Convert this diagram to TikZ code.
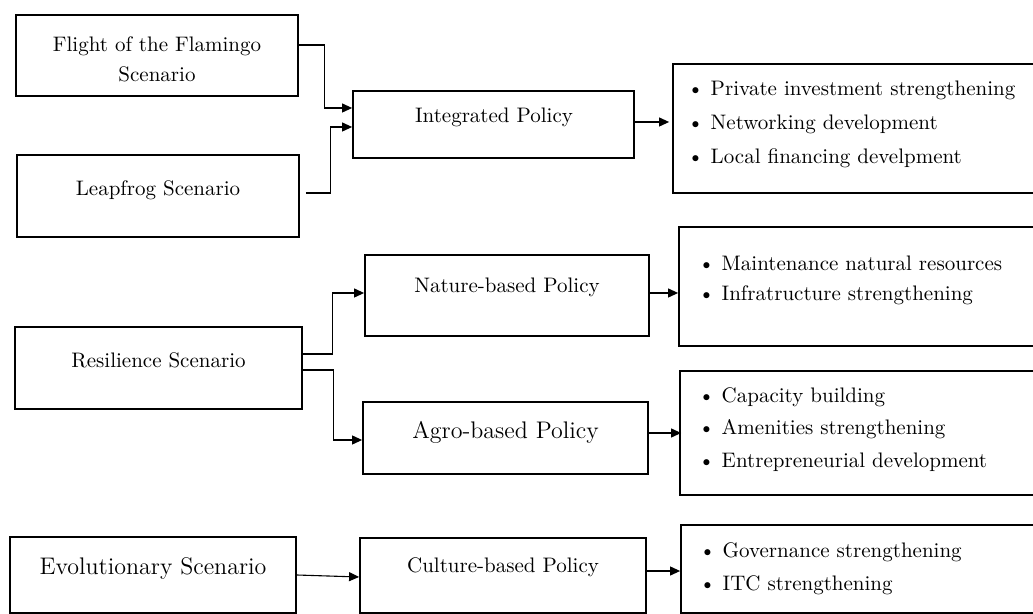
\documentclass[tikz,border=0pt]{standalone}
\usepackage{tikz}
\usetikzlibrary{arrows.meta}

\tikzset{
  box/.style={draw, line width=0.9pt, inner sep=0pt},
  lbl/.style={font=\fontsize{10.5}{15}\selectfont, align=center, inner sep=0pt},
  biglbl/.style={font=\fontsize{12}{14}\selectfont, align=center, inner sep=0pt},
  entry/.style={font=\fontsize{10.5}{13}\selectfont, anchor=west, inner sep=0pt},
  conn/.style={-{Triangle[length=5pt,width=4.5pt]}, line width=0.55pt}
}

\begin{document}
\begin{tikzpicture}[x=0.5pt, y=-0.5pt]
  \useasboundingbox (0,0) rectangle (1033,614);

  % scenario boxes (left column)
  \node[box, minimum width=141pt, minimum height=40.5pt] (flamingo) at (157,55.5) {};
  \node[lbl] (flamingo-t) at (157,59) {Flight of the Flamingo\\Scenario};
  \node[box, minimum width=141pt, minimum height=41pt] (leapfrog) at (158,196) {};
  \node[lbl] (leapfrog-t) at (158,190) {Leapfrog Scenario};
  \node[box, minimum width=143.5pt, minimum height=41pt] (resil) at (158.5,368) {};
  \node[lbl] (resil-t) at (158.5,360) {Resilience Scenario};
  \node[box, minimum width=143pt, minimum height=38pt] (evo) at (153,575) {};
  \node[biglbl] (evo-t) at (153,568) {Evolutionary Scenario};

  % policy boxes (middle column)
  \node[box, minimum width=140.5pt, minimum height=33.5pt] (integ) at (493.5,124.5) {};
  \node[lbl] (integ-t) at (494,117) {Integrated Policy};
  \node[box, minimum width=142pt, minimum height=40.5pt] (nature) at (507,295.5) {};
  \node[lbl] (nature-t) at (507,287) {Nature-based Policy};
  \node[box, minimum width=142.5pt, minimum height=36pt] (agro) at (505.5,438) {};
  \node[biglbl] (agro-t) at (505.5,432) {Agro-based Policy};
  \node[box, minimum width=143pt, minimum height=37.5pt] (culture) at (503,575.5) {};
  \node[lbl] (culture-t) at (503,567) {Culture-based Policy};

  % action boxes (right column)
  \node[box, minimum width=181.5pt, minimum height=64.5pt] (privinv) at (854.5,128.5) {};
  \node[box, minimum width=178.5pt, minimum height=59.5pt] (natres) at (857.5,286.5) {};
  \node[box, minimum width=178pt, minimum height=62pt] (capbld) at (858,433) {};
  \node[box, minimum width=177.5pt, minimum height=44pt] (govern) at (858.5,569) {};

  % bullet items
  \foreach \entrytext [count=\i] in {Private investment strengthening,
      Networking development, Local financing develpment}
    \node[entry] (privinv-\i) at (687,{90+34*(\i-1)}) {\textbullet\ \entrytext};
  \foreach \entrytext [count=\i] in {Maintenance natural resources,
      Infratructure strengthening}
    \node[entry] (natres-\i) at (698,{263+32*(\i-1)}) {\textbullet\ \entrytext};
  \foreach \entrytext [count=\i] in {Capacity building,
      Amenities strengthening, Entrepreneurial development}
    \node[entry] (capbld-\i) at (698,{397+32.5*(\i-1)}) {\textbullet\ \entrytext};
  \foreach \entrytext [count=\i] in {Governance strengthening,
      ITC strengthening}
    \node[entry] (govern-\i) at (699,{552+33*(\i-1)}) {\textbullet\ \entrytext};

  % connectors
  \draw[conn] ([yshift=5.25pt]flamingo.east) -- ++(13pt,0) |- ([yshift=8.25pt]integ.west);
  \draw[conn] ([xshift=3pt,yshift=1.5pt]leapfrog.east) -- ++(12.5pt,0) |- ([yshift=-1.25pt]integ.west);
  \draw[conn] ([yshift=1.25pt]integ.east) -- ([yshift=1.25pt,xshift=-1.5pt]privinv.west |- integ.east);

  \draw[conn] ([xshift=-1pt,yshift=7pt]resil.east) -- ++(16pt,0) |- ([yshift=1.25pt]nature.west);
  \draw[conn] ([xshift=-1pt,yshift=-1pt]resil.east) -- ++(16.5pt,0) |- ([yshift=-1pt]agro.west);
  \draw[conn] ([yshift=1.25pt]nature.east) -- ([yshift=1.25pt]natres.west |- nature.east);
  \draw[conn] ([yshift=2.5pt]agro.east) -- ([yshift=2.5pt,xshift=1pt]capbld.west |- agro.east);

  \draw[conn] (evo.east) -- ([yshift=-0.75pt]culture.west);
  \draw[conn] ([yshift=2.25pt]culture.east) -- ([yshift=2.25pt]govern.west |- culture.east);
\end{tikzpicture}
\end{document}
